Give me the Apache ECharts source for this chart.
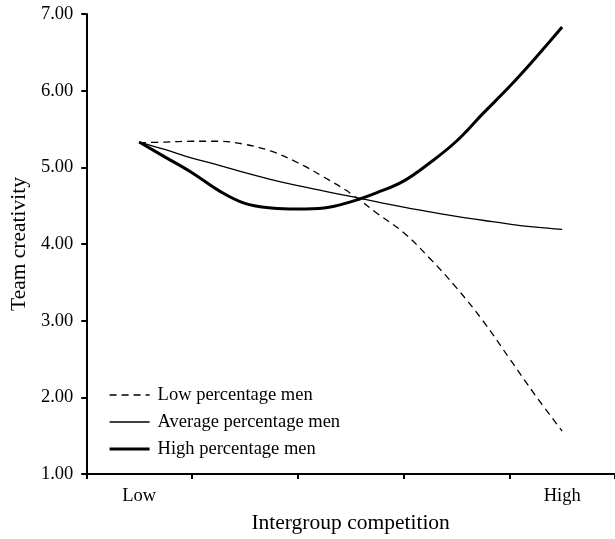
<!DOCTYPE html>
<html>
<head>
<meta charset="utf-8">
<script src="https://cdn.jsdelivr.net/npm/echarts@6/dist/echarts.min.js"></script>
<style>
    html, body { margin: 0; padding: 0; background: #fff; }
    #chart { width: 615px; height: 539px; }
</style>
</head>
<body>
<div id="chart"></div>
<script>
    // categories on the x axis (only ends are labelled)
    var categories = ['Low', '', '', '', 'High']
    // x positions where the curves were read (0..5 scale, bands centred on .5)
    var xPos = [0.5, 0.75, 1, 1.25, 1.5, 1.75, 2, 2.25, 2.5, 2.75, 3, 3.25, 3.5, 3.75, 4, 4.25, 4.5]
    var lowMen = [5.32, 5.33, 5.34, 5.34, 5.30, 5.21, 5.06, 4.87, 4.66, 4.40, 4.15, 3.81, 3.43, 3.00, 2.51, 2.02, 1.56]
    var avgMen = [5.33, 5.23, 5.12, 5.03, 4.93, 4.84, 4.76, 4.69, 4.62, 4.55, 4.48, 4.42, 4.36, 4.31, 4.26, 4.22, 4.19]
    var highMen = [5.33, 5.13, 4.93, 4.70, 4.53, 4.47, 4.455, 4.47, 4.55, 4.67, 4.82, 5.06, 5.34, 5.70, 6.05, 6.43, 6.83]
    var yTicks = ['1.00', '2.00', '3.00', '4.00', '5.00', '6.00', '7.00']

    var serif = '"Liberation Serif", "DejaVu Serif", serif'

    function pairs(ys) {
        return ys.map(function (y, i) { return [xPos[i], y] })
    }

    var myChart = echarts.init(document.getElementById('chart'))
    var option = {
        animation: false,
        textStyle: { fontFamily: serif, color: '#000' },
        grid: { left: 85, right: -4, top: 14, bottom: 62, containLabel: false },
        legend: {
            orient: 'vertical',
            left: 108,
            top: 385,
            padding: 0,
            itemWidth: 40,
            itemHeight: 20,
            itemGap: 7,
            itemStyle: { opacity: 0 },
            textStyle: { fontFamily: serif, fontSize: 18.5, lineHeight: 20, color: '#000', padding: [0, 0, 0, 3] },
            data: [
                { name: 'Low percentage men', lineStyle: { width: 1.3 } },
                { name: 'Average percentage men', lineStyle: { width: 1.3 } },
                { name: 'High percentage men', lineStyle: { width: 3.2 } }
            ]
        },
        xAxis: [
            {
                type: 'category',
                data: categories,
                boundaryGap: true,
                name: 'Intergroup competition',
                nameLocation: 'middle',
                nameGap: 38,
                nameTextStyle: { fontFamily: serif, fontSize: 21.5, color: '#000' },
                axisLine: { lineStyle: { color: '#000', width: 2 } },
                axisTick: { show: true, length: 5, inside: false, lineStyle: { color: '#000', width: 2 } },
                axisLabel: { fontFamily: serif, fontSize: 18.5, color: '#000', margin: 13, interval: 0 },
                splitLine: { show: false }
            },
            {
                type: 'value',
                min: 0,
                max: 5,
                show: false
            }
        ],
        yAxis: {
            type: 'value',
            min: 1,
            max: 7,
            interval: 1,
            name: 'Team creativity',
            nameLocation: 'middle',
            nameGap: 55,
            nameTextStyle: { fontFamily: serif, fontSize: 21.5, color: '#000' },
            axisLine: { show: true, lineStyle: { color: '#000', width: 2 } },
            axisTick: { show: true, length: 5, lineStyle: { color: '#000', width: 2 } },
            axisLabel: {
                fontFamily: serif, fontSize: 18.5, color: '#000', margin: 13,
                formatter: function (v) { return yTicks[Math.round(v) - 1] }
            },
            splitLine: { show: false }
        },
        series: [
            {
                name: 'Low percentage men',
                type: 'line',
                xAxisIndex: 1,
                data: pairs(lowMen),
                smooth: 0.4,
                symbol: 'none',
                itemStyle: { color: '#000' },
                lineStyle: { color: '#000', width: 1.3, type: [7, 5] }
            },
            {
                name: 'Average percentage men',
                type: 'line',
                xAxisIndex: 1,
                data: pairs(avgMen),
                smooth: 0.4,
                symbol: 'none',
                itemStyle: { color: '#000' },
                lineStyle: { color: '#000', width: 1.3 }
            },
            {
                name: 'High percentage men',
                type: 'line',
                xAxisIndex: 1,
                data: pairs(highMen),
                smooth: 0.4,
                symbol: 'none',
                itemStyle: { color: '#000' },
                lineStyle: { color: '#000', width: 3 }
            }
        ]
    }
    myChart.setOption(option)
</script>
</body>
</html>
